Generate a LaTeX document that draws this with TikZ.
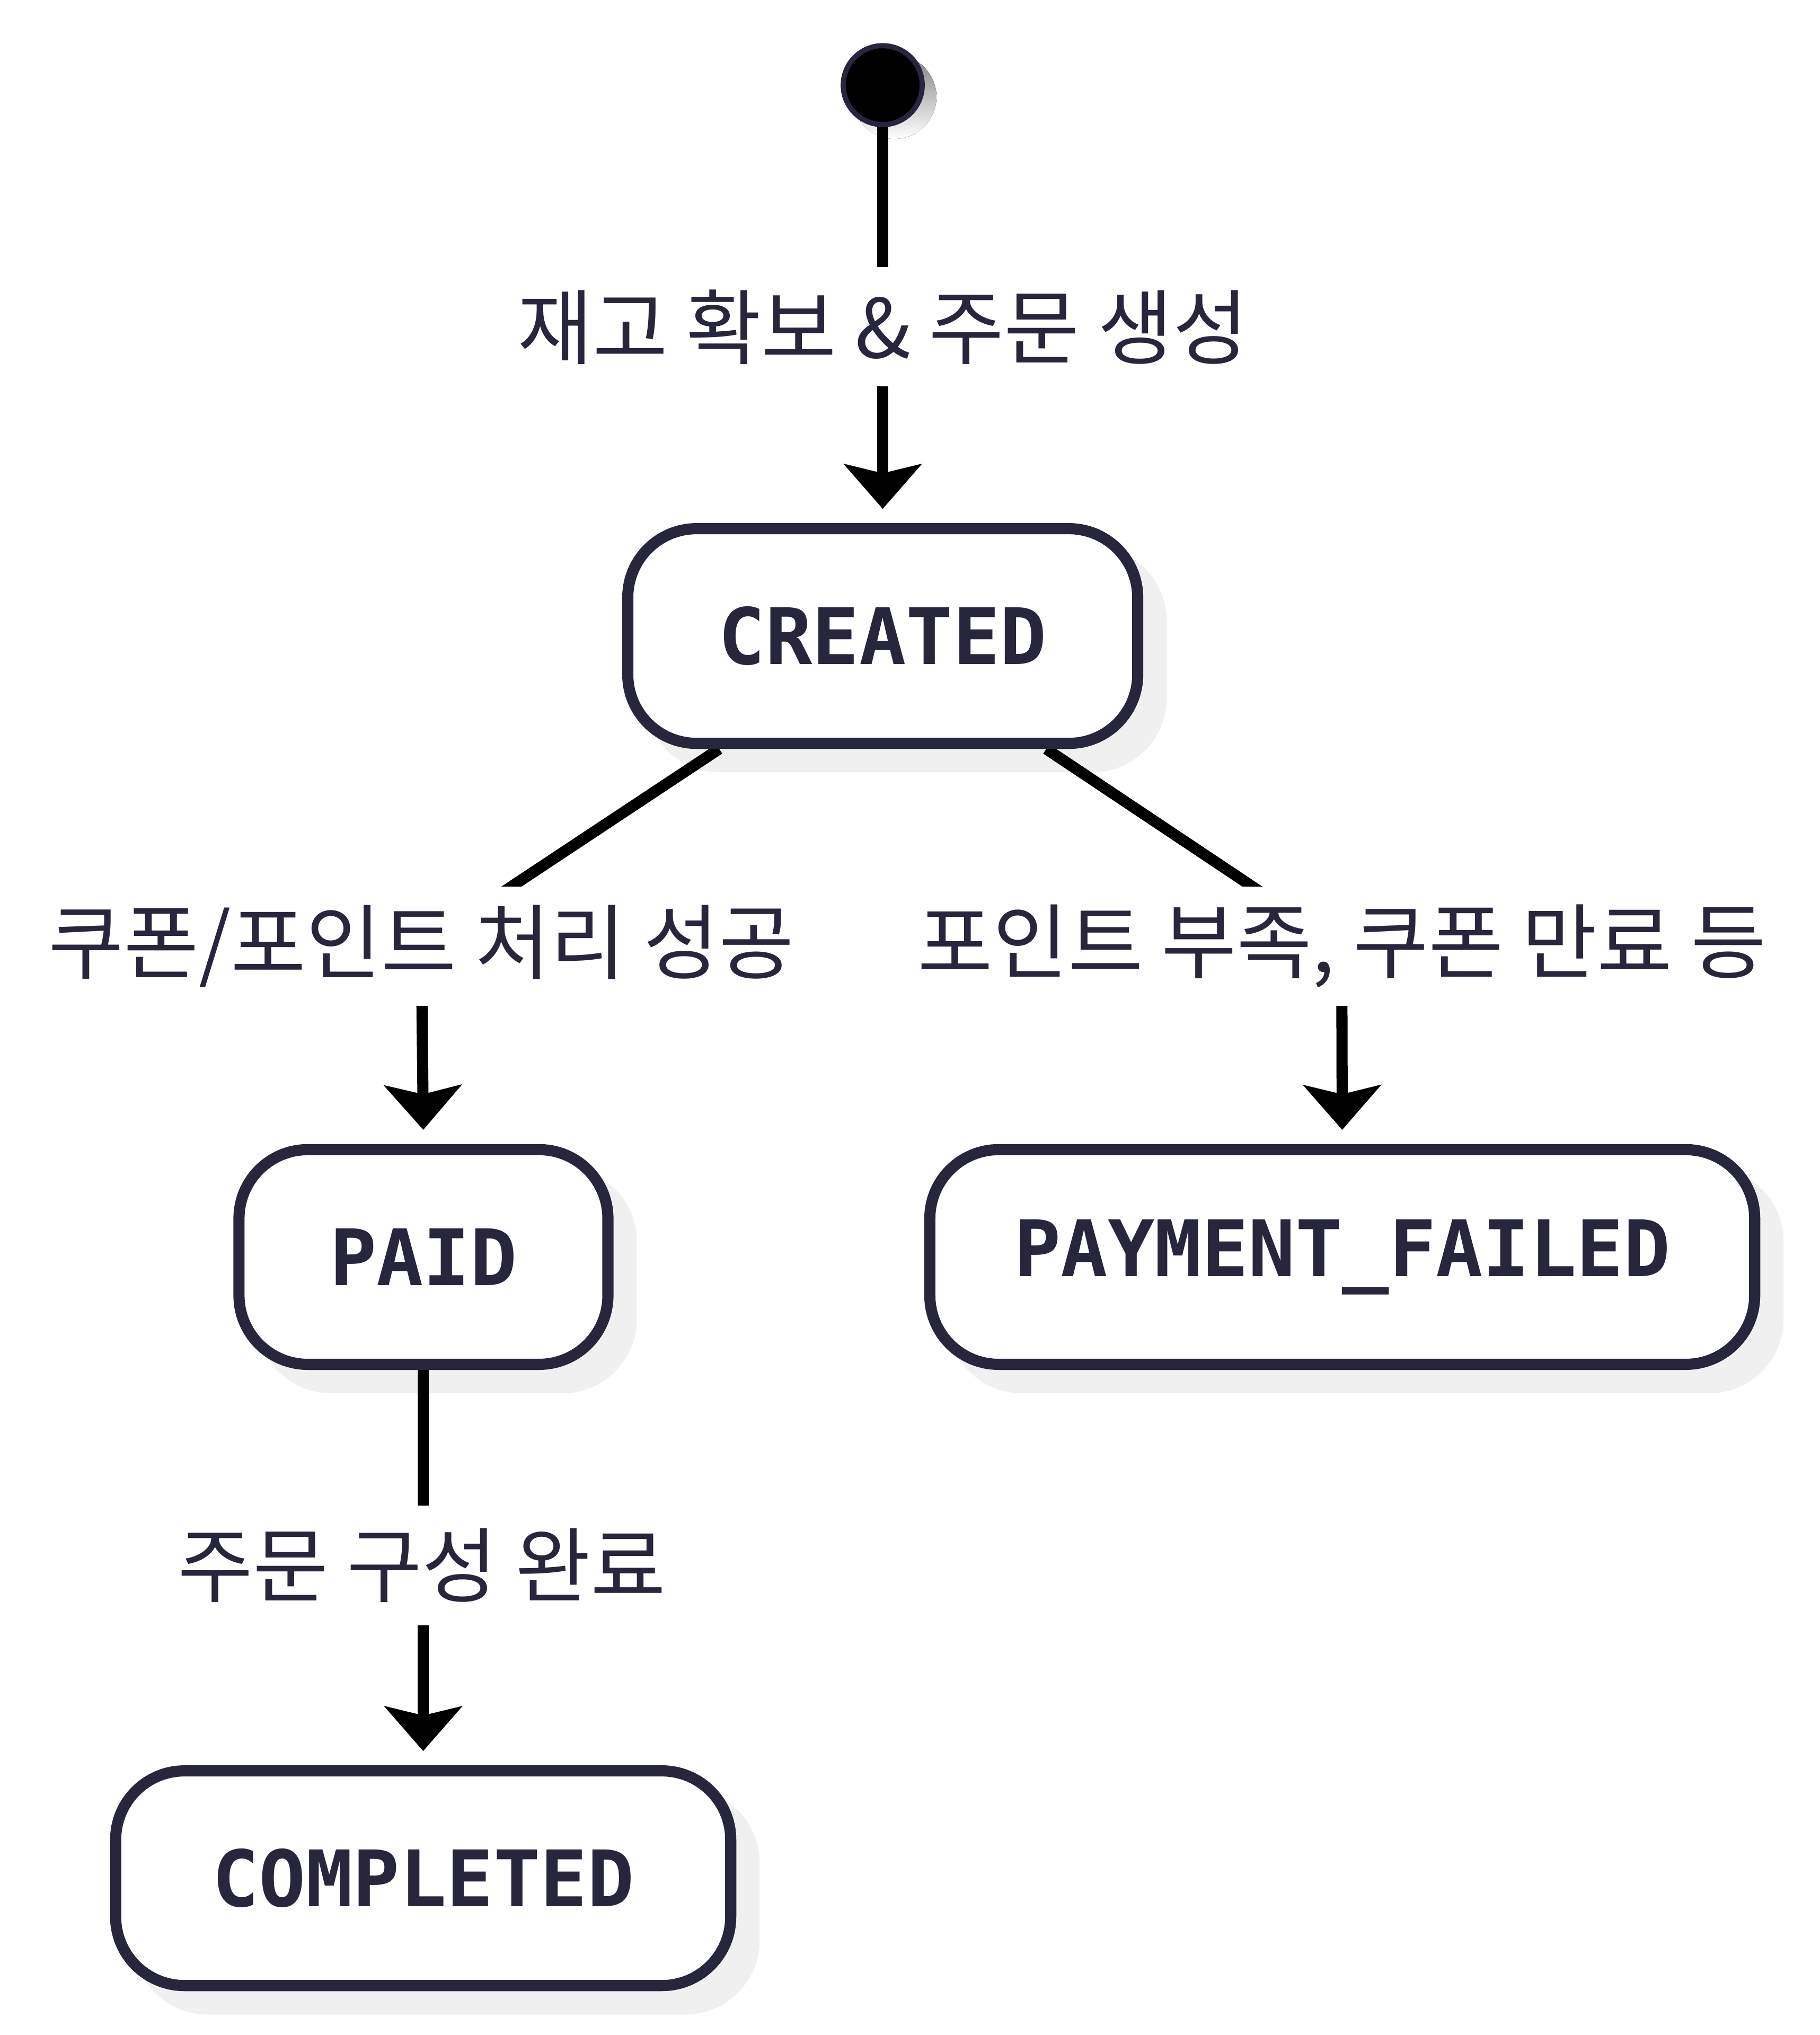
\documentclass[tikz,border=0pt]{standalone}
\usepackage{fontspec}
\setmainfont{Fira Sans}
\newfontfamily\krfont{Noto Sans CJK KR}
\newfontfamily\statefont{DejaVu Sans Mono}
\usetikzlibrary{arrows.meta}
\definecolor{ink}{RGB}{39,38,60}
\definecolor{shade}{RGB}{240,240,240}
\pgfdeclarelayer{shadowlayer}
\pgfdeclarelayer{linelayer}
\pgfsetlayers{shadowlayer,linelayer,main}
\begin{document}
\begin{tikzpicture}[x=1pt,y=1pt,
  state/.style={draw=ink, line width=4.3pt, fill=white, rounded corners=26.5pt,
    minimum height=82.7pt, inner sep=0pt, text=ink,
    font=\statefont\bfseries\fontsize{30}{34}\selectfont},
  lbl/.style={fill=white, inner xsep=6pt, inner ysep=0pt, minimum height=46pt,
    text=ink, font=\krfont\fontsize{31.5}{36}\selectfont},
  conn/.style={line width=4.3pt, draw=black},
  arr/.style={conn, -{Stealth[length=17.4pt, width=30.4pt, inset=3.7pt, line width=0pt]},
    shorten >=5.5pt},
  shadowbox/.style={fill=shade, rounded corners=28.6pt}
]
\useasboundingbox (0,0) rectangle (701,-783.9);

% nodes
\node[circle, draw=ink, line width=2pt, fill=black, minimum size=30.4pt, inner sep=0pt]
  (start) at (340,-32.8) {};
\node[state, minimum width=196.4pt] (created) at (340,-245.0) {CREATED};
\node[state, minimum width=142.1pt] (paid) at (163.1,-484.2) {PAID};
\node[state, minimum width=317.7pt] (failed) at (517.0,-484.2) {PAYMENT\_FAILED};
\node[state, minimum width=236.9pt] (completed) at (163.0,-723.5) {COMPLETED};

% labels
\node[lbl] (l1) at (340,-125.9) {재고 확보 \& 주문 생성};
\node[lbl] (l2) at (162.3,-364.5) {쿠폰/포인트 처리 성공};
\node[lbl] (l3) at (516.8,-364.5) {포인트 부족, 쿠폰 만료 등};
\node[lbl] (l4) at (162.5,-603.0) {주문 구성 완료};

% connectors
\begin{pgfonlayer}{linelayer}
\draw[arr] (start.center) -- (created.north);
\draw[arr] ([xshift=-63pt]created.south) -- (l2.center) -- (paid.north);
\draw[arr] ([xshift=63pt]created.south) -- (l3.center) -- (failed.north);
\draw[arr] (paid.south) -- (completed.north);
\end{pgfonlayer}

% shadows
\begin{pgfonlayer}{shadowlayer}
\fill[shade] ([shift={(4.5pt,-4.5pt)}]start.center) circle (16.2pt);
\foreach \n in {created,paid,failed,completed}{
  \fill[shadowbox] ([shift={(9pt,-9pt)}]\n.south west) rectangle ([shift={(9pt,-9pt)}]\n.north east);
}
\end{pgfonlayer}
\end{tikzpicture}
\end{document}
